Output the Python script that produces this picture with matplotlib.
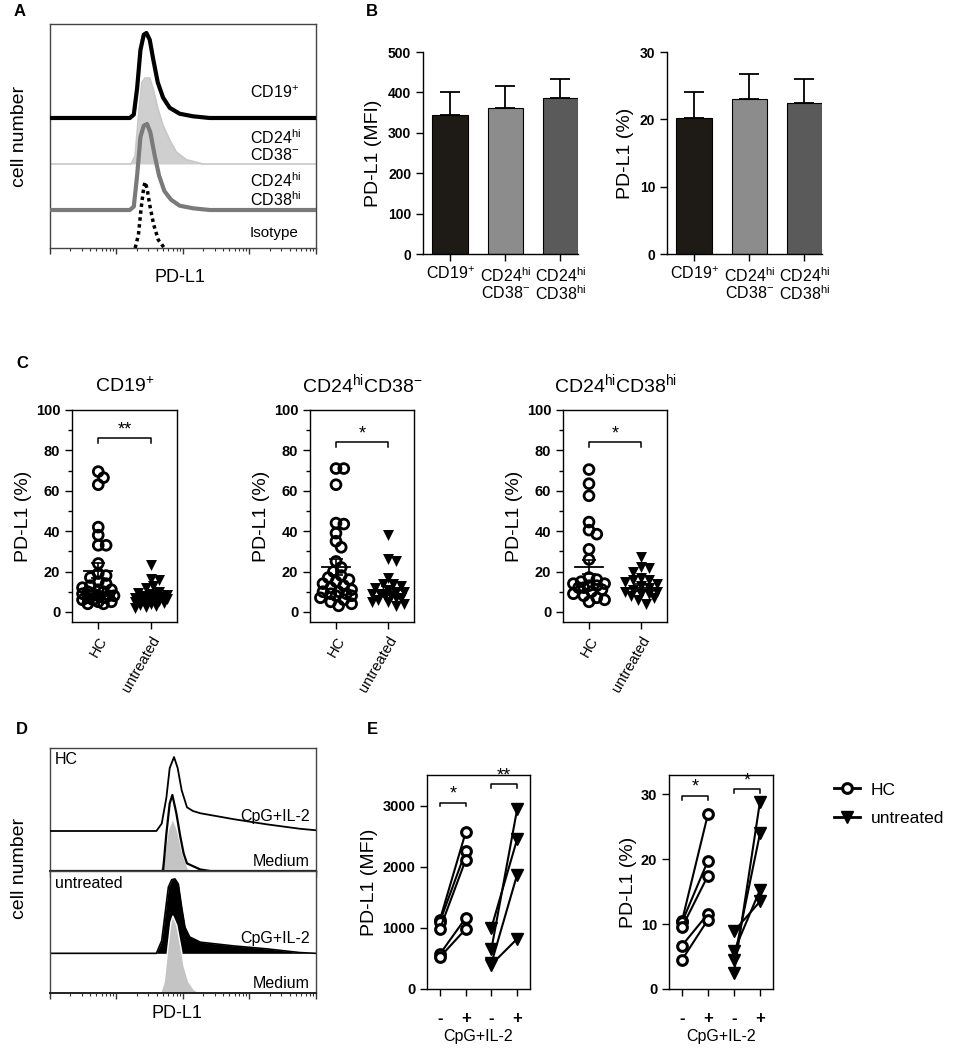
import numpy as np
import matplotlib
matplotlib.use('Agg')
import matplotlib.pyplot as plt
from matplotlib.ticker import LogLocator, NullFormatter, FixedLocator
from matplotlib.lines import Line2D

plt.rcParams['font.family'] = ['Liberation Sans', 'DejaVu Sans']
plt.rcParams['mathtext.fontset'] = 'custom'
plt.rcParams['mathtext.rm'] = 'Liberation Sans'
plt.rcParams['mathtext.it'] = 'Liberation Sans:italic'
plt.rcParams['mathtext.bf'] = 'Liberation Sans:bold'
plt.rcParams['axes.linewidth'] = 1.0

W, H = 957, 1049

# ---------------- data ----------------
# A: Histogramme, x = log10 Intensitaet, y = relative Zellzahl (%)
a_cd19_x = [0.0, 1.20, 1.26, 1.31, 1.36, 1.41, 1.45, 1.50, 1.55, 1.62, 1.70, 1.80, 1.95, 2.15, 2.40, 4.0]
a_cd19_y = [0, 0, 4, 35, 80, 98, 100, 92, 70, 42, 24, 12, 5, 2, 0, 0]
a_neg_x = [0.0, 1.22, 1.28, 1.33, 1.38, 1.43, 1.50, 1.55, 1.62, 1.70, 1.80, 1.90, 2.05, 2.30, 4.0]
a_neg_y = [0, 0, 10, 55, 95, 100, 100, 88, 65, 45, 28, 14, 5, 0, 0]
a_hi_x = [0.0, 1.20, 1.26, 1.31, 1.36, 1.41, 1.46, 1.51, 1.57, 1.64, 1.72, 1.82, 1.95, 2.15, 2.40, 4.0]
a_hi_y = [0, 0, 4, 40, 85, 98, 100, 90, 65, 40, 22, 12, 5, 2, 0, 0]
a_iso_x = [1.28, 1.33, 1.37, 1.41, 1.43, 1.46, 1.50, 1.56, 1.63, 1.72]
a_iso_y = [0, 20, 60, 92, 100, 90, 65, 35, 12, 0]

# B
subsets = [r'CD19$^{+}$', 'CD24$^{\\mathrm{hi}}$\nCD38$^{-}$', 'CD24$^{\\mathrm{hi}}$\nCD38$^{\\mathrm{hi}}$']
mfi_mean = [345, 362, 385]
mfi_err = [55, 55, 47]
pct_mean = [20.2, 23.0, 22.5]
pct_err = [3.8, 3.8, 3.5]

# C: PD-L1 (%) HC vs untreated
c_titles = [r'CD19$^{+}$', r'CD24$^{\mathrm{hi}}$CD38$^{-}$', r'CD24$^{\mathrm{hi}}$CD38$^{\mathrm{hi}}$']
c_hc = [
    [69.5, 66.5, 63, 42, 38, 33, 33, 24, 19, 18, 17, 15, 14, 13, 12, 11, 11, 10, 10, 9, 9, 8, 8, 8, 7, 7, 6, 6, 5, 5, 4, 4],
    [71, 71, 63, 44, 43.5, 39, 35, 32, 25, 22, 20, 18, 17, 16, 15, 14, 13, 12, 11, 10, 10, 9, 9, 8, 8, 7, 6, 5, 4, 3],
    [70.5, 63.5, 57.5, 44.5, 40.5, 38.5, 31, 26, 17, 16, 15, 14, 14, 13, 13, 12, 12, 11, 10, 9, 8, 7, 6, 5],
]
c_un = [
    [23, 16.5, 16, 13, 12, 10, 9.5, 9, 8.5, 8, 8, 7.5, 7, 7, 6.5, 6, 6, 5.5, 5, 5, 4.5, 4, 3.5, 3, 2.5, 2],
    [38, 26, 25, 17, 14, 14, 13, 12, 11, 10, 10, 9, 9, 8, 8, 7, 7, 6, 5, 5, 4, 3],
    [27, 22, 21.5, 20, 17, 16, 16, 15, 14, 13, 12, 11, 10, 10, 9, 9, 8, 7, 6, 4],
]
c_hc_mean = [20.4, 22.4, 22.3]
c_hc_sem = [3.8, 3.9, 3.5]
c_un_mean = [8.0, 11.0, 12.0]
c_un_sem = [1.5, 1.8, 1.6]
c_stars = ['**', '*', '*']
c_bracket = [86, 84, 84]

# D: Histogramme nach Stimulation
d_hc_cpg_x = [0.0, 1.60, 1.68, 1.75, 1.80, 1.865, 1.92, 1.98, 2.06, 2.15, 2.26, 2.76, 3.26, 3.76, 4.0]
d_hc_cpg_y = [0, 0, 10, 45, 85, 100, 85, 55, 32, 27, 24, 16, 9, 3, 1]
d_hc_med_x = [0.0, 1.70, 1.75, 1.80, 1.84, 1.90, 1.96, 2.01, 2.06, 2.26, 2.41, 4.0]
d_hc_med_y = [0, 0, 49, 89, 100, 76, 45, 23, 10, 2, 0, 0]
d_hc_iso_x = [1.654, 1.73, 1.78, 1.84, 1.90, 1.98, 2.06, 2.13]
d_hc_iso_y = [0, 34, 80, 100, 80, 34, 5, 0]
d_un_cpg_x = [0.0, 1.60, 1.68, 1.73, 1.78, 1.83, 1.88, 1.93, 1.98, 2.03, 2.10, 2.26, 2.76, 3.26, 3.76, 4.0]
d_un_cpg_y = [0, 0, 17, 53, 89, 99, 100, 93, 62, 35, 22, 15, 10, 6, 1, 0]
d_un_med_x = [1.654, 1.71, 1.76, 1.81, 1.84, 1.90, 1.96, 2.01, 2.08, 2.16, 2.26]
d_un_med_y = [0, 15, 55, 92, 100, 88, 60, 35, 15, 5, 0]

# E: gepaarte Daten (- / + CpG+IL-2)
e_mfi_hc_neg = [1130, 1100, 980, 570, 520]
e_mfi_hc_pos = [2560, 2250, 2110, 1160, 980]
e_mfi_un_neg = [1000, 650, 420, 400]
e_mfi_un_pos = [2450, 2940, 1870, 820]
e_pct_hc_neg = [10.5, 10.3, 9.5, 6.7, 4.5]
e_pct_hc_pos = [27.0, 19.8, 17.5, 11.6, 10.7]
e_pct_un_neg = [2.5, 4.5, 5.8, 8.9]
e_pct_un_pos = [28.9, 24.0, 15.3, 13.5]


# ---------------- helpers ----------------
fig = plt.figure(figsize=(W / 100, H / 100), dpi=100)


def ax_px(l, t, r, b):
    return fig.add_axes([l / W, 1 - b / H, (r - l) / W, (b - t) / H])


def ftext(x, y, s, **kw):
    fig.text(x / W, 1 - y / H, s, **kw)


def log_axis(ax):
    ax.set_xscale('log')
    ax.set_xlim(1, 1e4)
    ax.xaxis.set_major_locator(LogLocator(base=10, numticks=10))
    ax.xaxis.set_minor_locator(LogLocator(base=10, subs=np.arange(2, 10), numticks=10))
    ax.xaxis.set_major_formatter(NullFormatter())
    ax.xaxis.set_minor_formatter(NullFormatter())
    ax.tick_params(axis='x', which='major', length=4, width=1, direction='out', color='#333333')
    ax.tick_params(axis='x', which='minor', length=2, width=0.8, direction='out', color='#333333')
    ax.set_yticks([])
    for s in ax.spines.values():
        s.set_color('#444444')


def curve(xs, ys, base, scale):
    return 10 ** np.array(xs), base + np.array(ys) * scale / 100.0


def swarm(vals, xc, pxx, pxy, d=7.5, lim=0.3):
    # Punkte nebeneinander legen, damit sie sich wenig ueberdecken
    vals = np.asarray(vals, float)
    cand = np.linspace(-lim, lim, 13)
    cand = cand[np.argsort(np.abs(cand), kind='stable')]
    xs = np.zeros(len(vals))
    placed = []
    for i in np.argsort(-vals, kind='stable'):
        best, bestd = 0.0, -1
        for c in cand:
            if placed:
                md = min(np.hypot((c - px) * pxx, (vals[i] - py) * pxy) for px, py in placed)
            else:
                md = 1e9
            if md >= d:
                best = c
                break
            if md > bestd:
                best, bestd = c, md
        xs[i] = xc + best
        placed.append((best, vals[i]))
    return xs


def bracket(ax, x0, x1, y, h, txt, fs=13):
    ax.plot([x0, x0, x1, x1], [y - h, y, y, y - h], color='black', lw=1.1, clip_on=False)
    ax.text((x0 + x1) / 2, y, txt, ha='center', va='bottom', fontsize=fs)


# ---------------- A ----------------
ftext(20, 12, 'A', fontsize=12, fontweight='bold', va='center', ha='center')
axA = ax_px(50, 24, 316, 248)
log_axis(axA)
axA.set_ylim(0, 224)
x, y = curve(a_neg_x, a_neg_y, 84, 86)
axA.fill_between(x, 84, y, color='#cfcfcf', lw=0, zorder=1)
axA.plot(x, y, color='#c8c8c8', lw=1.2, zorder=1)
x, y = curve(a_cd19_x, a_cd19_y, 130, 85)
axA.plot(x, y, color='black', lw=3, zorder=3, solid_joinstyle='round')
x, y = curve(a_hi_x, a_hi_y, 38, 86)
axA.plot(x, y, color='#7a7a7a', lw=3, zorder=4, solid_joinstyle='round')
x, y = curve(a_iso_x, a_iso_y, 0, 66)
axA.plot(x, y, color='black', lw=2.5, ls=(0, (1, 1)), zorder=5)
ftext(20, 136, 'cell number', rotation=90, fontsize=14, va='center', ha='center')
ftext(180, 278, 'PD-L1', fontsize=13, va='center', ha='center')
ftext(250, 93, r'CD19$^{+}$', fontsize=11.5, va='center')
ftext(250, 146, 'CD24$^{\\mathrm{hi}}$\nCD38$^{-}$', fontsize=11.5, va='center', linespacing=1.0)
ftext(250, 190, 'CD24$^{\\mathrm{hi}}$\nCD38$^{\\mathrm{hi}}$', fontsize=11.5, va='center', linespacing=1.0)
ftext(250, 233, 'Isotype', fontsize=11, va='center')

# ---------------- B ----------------
ftext(372, 11, 'B', fontsize=12, fontweight='bold', va='center', ha='center')
bar_colors = ['#1e1b16', '#8c8c8c', '#5a5a5a']
b_sets = [((423, 578), mfi_mean, mfi_err, 500, 100, 'PD-L1 (MFI)'),
          ((667, 822), pct_mean, pct_err, 30, 10, 'PD-L1 (%)')]
for (l, r), means, errs, top, step, ylab in b_sets:
    ax = ax_px(l, 52, r, 254)
    pos = np.arange(len(means))
    ax.bar(pos, means, width=0.64, color=bar_colors, edgecolor='black', lw=0.8, zorder=2)
    ax.errorbar(pos, means, yerr=[np.zeros(len(errs)), errs], fmt='none', ecolor='black',
                elinewidth=1.3, capsize=7, capthick=1.3, zorder=1)
    ax.set_xlim(-0.49, 2.32)
    ax.set_ylim(0, top)
    ax.set_yticks(np.arange(0, top + 1, step))
    ax.set_xticks(pos)
    ax.set_xticklabels(subsets, fontsize=11.5, linespacing=1.0)
    for t in ax.get_yticklabels():
        t.set_fontweight('bold')
        t.set_fontsize(10)
    ax.tick_params(direction='out', length=5, width=1)
    ax.spines['top'].set_visible(False)
    ax.spines['right'].set_visible(False)
    ax.set_ylabel(ylab, fontsize=14, labelpad=4)

# ---------------- C ----------------
ftext(22, 363, 'C', fontsize=12, fontweight='bold', va='center', ha='center')
c_boxes = [(72, 177), (310, 414), (563, 667)]
for k, (l, r) in enumerate(c_boxes):
    ax = ax_px(l, 410, r, 622)
    ax.set_xlim(-0.5, 1.5)
    ax.set_ylim(-5, 100)
    pxx = (r - l) / 2.0
    pxy = 212 / 105.0
    xh = swarm(c_hc[k], 0, pxx, pxy)
    ax.scatter(xh, c_hc[k], s=50, facecolors='none', edgecolors='black', linewidths=2.0, zorder=3)
    xu = swarm(c_un[k], 1, pxx, pxy)
    ax.scatter(xu, c_un[k], s=62, marker='v', color='black', lw=0, zorder=3)
    for xc, m, e in [(0, c_hc_mean[k], c_hc_sem[k]), (1, c_un_mean[k], c_un_sem[k])]:
        ax.plot([xc - 0.27, xc + 0.27], [m, m], color='black', lw=1.3, zorder=4)
        ax.errorbar([xc], [m], yerr=[e], fmt='none', ecolor='black', elinewidth=1.2,
                    capsize=5, capthick=1.2, zorder=4)
    bracket(ax, 0, 1, c_bracket[k], 2.5, c_stars[k])
    ax.set_yticks(np.arange(0, 101, 20))
    ax.yaxis.set_minor_locator(FixedLocator([10, 30, 50, 70, 90]))
    ax.set_xticks([0, 1])
    ax.set_xticklabels(['HC', 'untreated'], rotation=60, ha='right', rotation_mode='anchor', fontsize=10.5)
    for t in ax.get_yticklabels():
        t.set_fontweight('bold')
        t.set_fontsize(10.5)
    ax.tick_params(which='major', direction='out', length=5, width=1)
    ax.tick_params(which='minor', direction='out', length=3, width=1)
    ax.set_ylabel('PD-L1 (%)', fontsize=14, labelpad=3)
    ax.set_title(c_titles[k], fontsize=14, pad=13)

# ---------------- D ----------------
ftext(22, 730, 'D', fontsize=12, fontweight='bold', va='center', ha='center')
axD1 = ax_px(50, 748, 316, 871)
axD2 = ax_px(50, 871, 316, 993)
for ax in (axD1, axD2):
    log_axis(ax)
    ax.set_ylim(0, 123)
    ax.spines['bottom'].set_linewidth(1.4)
    ax.spines['bottom'].set_color('#222222')
x, y = curve(d_hc_iso_x, d_hc_iso_y, 0, 51)
axD1.fill_between(x, 0, y, color='#c4c4c4', lw=0, zorder=1)
x, y = curve(d_hc_med_x, d_hc_med_y, 0, 76)
axD1.plot(x, y, color='black', lw=1.6, zorder=2)
x, y = curve(d_hc_cpg_x, d_hc_cpg_y, 40, 74)
axD1.plot(x, y, color='black', lw=1.3, zorder=3)
x, y = curve(d_un_cpg_x, d_un_cpg_y, 40, 75)
axD2.fill_between(x, 40, y, color='black', lw=0, zorder=1)
axD2.plot(x, y, color='black', lw=1.2, zorder=1)
x, y = curve(d_un_med_x, d_un_med_y, 0, 78)
axD2.fill_between(x, 0, y, facecolor='#c4c4c4', edgecolor='white', lw=1.0, zorder=2)
ftext(55, 760, 'HC', fontsize=11.5, va='center')
ftext(55, 883, 'untreated', fontsize=11.5, va='center')
ftext(310, 817, 'CpG+IL-2', fontsize=11.5, va='center', ha='right')
ftext(310, 862, 'Medium', fontsize=11.5, va='center', ha='right')
ftext(310, 938, 'CpG+IL-2', fontsize=11.5, va='center', ha='right')
ftext(310, 983, 'Medium', fontsize=11.5, va='center', ha='right')
ftext(20, 868, 'cell number', rotation=90, fontsize=14, va='center', ha='center')
ftext(177, 1013, 'PD-L1', fontsize=13, va='center', ha='center')

# ---------------- E ----------------
ftext(372, 730, 'E', fontsize=12, fontweight='bold', va='center', ha='center')
e_sets = [((427, 530), e_mfi_hc_neg, e_mfi_hc_pos, e_mfi_un_neg, e_mfi_un_pos, 3500, 1000,
           'PD-L1 (MFI)', (3050, 3350), ('*', '**'), 65),
          ((669, 773), e_pct_hc_neg, e_pct_hc_pos, e_pct_un_neg, e_pct_un_pos, 33, 10,
           'PD-L1 (%)', (29.8, 30.8), ('*', '*'), 0.6)]
for (l, r), hn, hp, un, up, top, step, ylab, by, st, bh in e_sets:
    ax = ax_px(l, 775, r, 989)
    for a, b in zip(hn, hp):
        ax.plot([0, 1], [a, b], color='black', lw=1.5, marker='o', ms=7,
                mfc='white', mec='black', mew=2.2, zorder=3)
    for a, b in zip(un, up):
        ax.plot([2, 3], [a, b], color='black', lw=1.5, marker='v', ms=9,
                mfc='black', mec='black', zorder=3)
    ax.set_xlim(-0.5, 3.5)
    ax.set_ylim(0, top)
    ax.set_yticks(np.arange(0, top + 0.1, step))
    ax.set_xticks([0, 1, 2, 3])
    ax.set_xticklabels(['-', '+', '-', '+'], fontsize=12, fontweight='bold')
    for t in ax.get_yticklabels():
        t.set_fontweight('bold')
        t.set_fontsize(10.5)
    ax.tick_params(axis='x', direction='out', length=5, width=1, pad=11)
    ax.tick_params(axis='y', direction='out', length=5, width=1)
    ax.set_xlabel('CpG+IL-2', fontsize=11.5, labelpad=2)
    ax.set_ylabel(ylab, fontsize=14, labelpad=3)
    bracket(ax, 0, 1, by[0], bh, st[0])
    bracket(ax, 2, 3, by[1], bh, st[1])

handles = [Line2D([], [], color='black', lw=2, marker='o', ms=7, mfc='white', mec='black', mew=2.2),
           Line2D([], [], color='black', lw=2, marker='v', ms=9, mfc='black', mec='black')]
fig.legend(handles, ['HC', 'untreated'], loc='upper left', bbox_to_anchor=(824 / W, 1 - 772 / H),
           frameon=False, fontsize=12.5, handlelength=1.5, handletextpad=0.6, labelspacing=0.75,
           borderaxespad=0.2)

fig.savefig('out.png', dpi=100)
